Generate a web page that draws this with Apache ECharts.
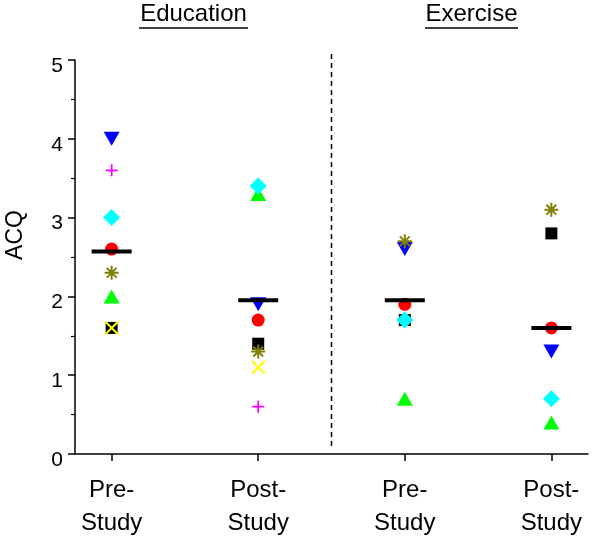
<!DOCTYPE html>
<html><head><meta charset="utf-8">
<script src="https://cdn.jsdelivr.net/npm/echarts@6/dist/echarts.min.js"></script>
<style>html,body{margin:0;padding:0;background:#fff}#c{width:600px;height:537px}</style>
</head><body><div id="c"></div>
<script>
var categories = ['Pre-\nStudy', 'Post-\nStudy', 'Pre-\nStudy', 'Post-\nStudy'];
var groupTitles = ['Education', 'Exercise'];
var squareVals = [1.6, 1.4, 1.7, 2.8];
var greenTriVals = [2.0, 3.3, 0.7, 0.4];
var blueTriVals = [4.0, 1.9, 2.6, 1.3];
var diamondVals = [3.0, 3.4, 1.7, 0.7];
var circleVals = [2.6, 1.7, 1.9, 1.6];
var asteriskVals = [2.3, 1.3, 2.7, 3.1];
var plusVals = [3.6, 0.6, null, null];
var crossVals = [1.6, 1.1, null, null];
var meanVals = [2.57, 1.95, 1.95, 1.6];
var dividerX = 2.5;
var dividerY = [0.1, 5.08];
var yTicks = [0, 1, 2, 3, 4, 5];

var FONT = 'Liberation Sans, Arial, Helvetica, sans-serif';
function pts(vals) {
  var out = [];
  vals.forEach(function (v, i) { if (v !== null) out.push([i + 1, v]); });
  return out;
}
function strokeSym(name, vals, path, color, size, w) {
  return { name: name, type: 'scatter', data: pts(vals), symbol: path, symbolSize: size,
    itemStyle: { color: 'none', borderColor: color, borderWidth: w, opacity: 1 } };
}
function fillSym(name, vals, sym, color, size, rot) {
  return { name: name, type: 'scatter', data: pts(vals), symbol: sym, symbolSize: size,
    symbolRotate: rot || 0, itemStyle: { color: color, opacity: 1 } };
}
var chart = echarts.init(document.getElementById('c'), null, { renderer: 'canvas' });
var series = [
  { name: 'divider', type: 'line', data: dividerY.map(function (y) { return [dividerX, y]; }),
    showSymbol: false, symbol: 'none', clip: false, z: 1,
    lineStyle: { color: '#000', type: [5, 4], width: 1.5 } },
  fillSym('square', squareVals, 'rect', '#000000', 12),
  fillSym('greenTri', greenTriVals, 'triangle', '#00ff00', [16, 14]),
  fillSym('blueTri', blueTriVals, 'triangle', '#0000ff', [16, 14], 180),
  fillSym('diamond', diamondVals, 'diamond', '#00ffff', [17, 17]),
  fillSym('circle', circleVals, 'circle', '#ff0000', 13),
  strokeSym('asterisk', asteriskVals, 'path://M0,5L10,5M5,0L5,10M1.5,1.5L8.5,8.5M8.5,1.5L1.5,8.5', '#808000', 14, 2),
  strokeSym('plus', plusVals, 'path://M0,5L10,5M5,0L5,10', '#ff00ff', 12, 1.8),
  strokeSym('cross', crossVals, 'path://M0,0L10,10M10,0L0,10', '#ffff00', 13, 2),
  { name: 'mean', type: 'scatter', data: pts(meanVals), symbol: 'rect', symbolSize: [40, 4],
    itemStyle: { color: '#000000', opacity: 1 }, clip: false }
];
series.forEach(function (s) { s.animation = false; s.emphasis = { disabled: true }; });

chart.setOption({
  animation: false,
  grid: { left: 75, right: 12, top: 60, bottom: 83, containLabel: false, outerBoundsMode: 'none' },
  xAxis: {
    type: 'value', min: 0.75, max: 4.25,
    axisLine: { show: true, lineStyle: { color: '#000', width: 1.5 }, onZero: false },
    axisTick: { show: true, customValues: [1, 2, 3, 4], length: 7, inside: false, lineStyle: { color: '#000', width: 1.5 } },
    axisLabel: { customValues: [1, 2, 3, 4], formatter: function (v) { return categories[Math.round(v) - 1]; },
      color: '#000', fontSize: 24, fontFamily: FONT, lineHeight: 33, margin: 20 },
    splitLine: { show: false }
  },
  yAxis: {
    type: 'value', min: 0, max: 5, interval: 1,
    name: 'ACQ', nameLocation: 'middle', nameGap: 48,
    nameTextStyle: { color: '#000', fontSize: 23, fontFamily: FONT, padding: [0, 0, 0, 44] },
    axisLine: { show: true, lineStyle: { color: '#000', width: 1.5 } },
    axisTick: { show: true, length: 7, lineStyle: { color: '#000', width: 1.5 } },
    minorTick: { show: true, splitNumber: 2, length: 4, lineStyle: { color: '#000', width: 1.2 } },
    axisLabel: { color: '#000', fontSize: 21, fontFamily: FONT, margin: 12, verticalAlign: 'top', lineHeight: 12,
      formatter: function (v) { return yTicks.indexOf(v) >= 0 ? String(v) : ''; } },
    splitLine: { show: false }
  },
  graphic: [
    { type: 'text', x: 193.5, y: 2, style: { text: groupTitles[0], font: '24px ' + FONT, fill: '#000', textAlign: 'center' } },
    { type: 'line', shape: { x1: 139, y1: 28, x2: 248, y2: 28 }, style: { stroke: '#000', lineWidth: 1.5 } },
    { type: 'text', x: 471.5, y: 2, style: { text: groupTitles[1], font: '24px ' + FONT, fill: '#000', textAlign: 'center' } },
    { type: 'line', shape: { x1: 425, y1: 28, x2: 518, y2: 28 }, style: { stroke: '#000', lineWidth: 1.5 } }
  ],
  series: series
});
</script></body></html>
